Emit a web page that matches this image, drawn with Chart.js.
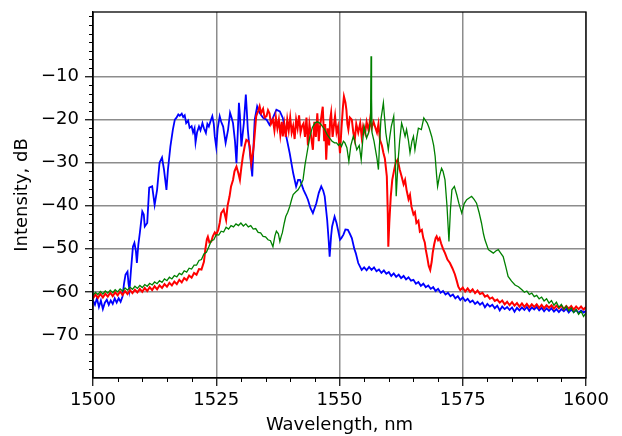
<!DOCTYPE html>
<html>
<head>
<meta charset="utf-8">
<script src="https://cdn.jsdelivr.net/npm/chart.js@4.4.1/dist/chart.umd.min.js"></script>
<style>
  html, body { margin: 0; padding: 0; background: #fff; }
</style>
</head>
<body>
<canvas id="spectrum" width="622" height="436"></canvas>
<script>

// tick labels
const xTicks = [1500, 1525, 1550, 1575, 1600];
const yTicks = [-70, -60, -50, -40, -30, -20, -10];

// blue trace
const wlBlue = [1500, 1500.4, 1500.8, 1501.2, 1501.6, 1502, 1502.4, 1502.8, 1503.2, 1503.6, 1504, 1504.4, 1504.8, 1505.2, 1505.6, 1506, 1506.3, 1506.6, 1507, 1507.2, 1507.4, 1507.7, 1508.1, 1508.4, 1508.7, 1508.9, 1509.2, 1509.5, 1510, 1510.3, 1510.5, 1511, 1511.4, 1512, 1512.5, 1513, 1513.5, 1514, 1514.4, 1514.9, 1515.2, 1515.7, 1516.2, 1516.6, 1516.9, 1517.3, 1517.6, 1518, 1518.3, 1518.6, 1518.9, 1519.3, 1519.6, 1520, 1520.3, 1520.6, 1520.8, 1521.1, 1521.5, 1521.8, 1522.2, 1522.5, 1522.9, 1523.2, 1523.5, 1523.8, 1524.2, 1524.5, 1524.7, 1525, 1525.3, 1525.7, 1526, 1526.4, 1526.9, 1527.4, 1527.8, 1528.1, 1528.4, 1528.8, 1529.1, 1529.4, 1529.6, 1529.8, 1530.1, 1530.3, 1530.6, 1531, 1531.2, 1531.4, 1531.9, 1532.3, 1532.6, 1532.8, 1533.3, 1533.8, 1534.5, 1535.2, 1535.8, 1536.5, 1537.2, 1537.9, 1538.5, 1539.2, 1539.9, 1540.6, 1541.2, 1541.6, 1542, 1542.7, 1543.2, 1543.6, 1544.1, 1544.6, 1545.3, 1545.8, 1546.3, 1546.7, 1547, 1547.5, 1547.8, 1548, 1548.3, 1548.5, 1549, 1549.4, 1549.7, 1550.1, 1550.4, 1550.8, 1551.2, 1551.7, 1552.1, 1552.5, 1553, 1553.3, 1553.8, 1554.5,
  1555, 1555.5, 1556, 1556.5, 1557, 1557.5, 1558, 1558.5, 1559, 1559.5, 1560, 1560.5, 1561, 1561.5, 1562, 1562.5, 1563, 1563.5, 1564, 1564.5, 1565, 1565.5, 1566, 1566.5, 1567, 1567.5, 1568, 1568.5, 1569, 1569.5, 1570, 1570.5, 1571, 1571.5, 1572, 1572.5, 1573, 1573.5, 1574, 1574.5, 1575, 1575.5, 1576, 1576.5, 1577, 1577.5, 1578, 1578.5, 1579, 1579.5, 1580, 1580.5, 1581, 1581.5, 1582, 1582.5, 1583, 1583.5, 1584, 1584.5, 1585, 1585.5, 1586, 1586.5, 1587, 1587.5, 1588, 1588.5, 1589, 1589.5, 1590, 1590.5, 1591, 1591.5, 1592, 1592.5, 1593, 1593.5, 1594, 1594.5, 1595, 1595.5, 1596, 1596.5, 1597, 1597.5, 1598, 1598.5, 1599, 1599.5, 1600];
const intBlue = [-62, -63, -61.5, -63.5, -62, -64, -62.5, -61.8, -63, -62, -62.8, -61.5, -62.5, -61.5, -62.3, -61, -58, -56, -55.3, -58, -59.5, -55, -49.5, -48.6, -50.5, -53.3, -49, -46.3, -41.3, -42, -44.8, -44, -35.8, -35.5, -39.8, -36.3, -30, -28.8, -31.6, -36.3, -31.6, -26.2, -22.3, -20, -19.6, -18.8, -19.1, -18.6, -19.4, -19, -20.8, -20.2, -21.9, -21.5, -23, -22, -25.3, -23, -21.6, -22.5, -20.8, -22, -23.1, -21, -21.6, -20.5, -19.2, -21, -23.9, -26.4, -22, -19.2, -20.5, -21.6, -25.4, -22.3, -18.4, -19.5, -20.8, -25, -30.1, -22, -16.1, -19, -26.2, -24, -20.8, -14.2, -18, -22.3, -28.5, -33.2, -25, -20, -16.9, -18.4, -19.6, -20, -21.2, -19.6, -17.7, -18.1, -19.6, -23.9, -27.8, -32.4, -35.5, -34, -34, -36.3, -37.5, -38.6, -40.5, -41.7, -39.4, -37, -35.5, -36.5, -37.8, -43.3, -48, -51.8, -47, -44.8, -42.5, -44, -45.6, -47.9, -47.5, -46.7, -45.5, -45.6, -46.5, -47.5, -50, -51, -53.3, -54.9,
  -54.3, -55, -54.2, -54.9, -54.3, -55.2, -54.8, -55.6, -55, -55.8, -55.4, -56.3, -55.7, -56.5, -56, -56.8, -56.3, -57.1, -56.6, -57.4, -57.2, -58.1, -57.7, -58.6, -58.1, -58.9, -58.5, -59.3, -58.9, -59.8, -59.3, -60.2, -59.8, -60.6, -60.2, -61, -60.6, -61.5, -61, -61.9, -61.3, -62.1, -61.6, -62.4, -62, -62.8, -62.3, -63, -62.5, -63.6, -62.8, -63.4, -63, -63.8, -63.2, -64.3, -63.4, -64, -63.5, -64.2, -63.6, -64.6, -63.7, -64.3, -63.6, -64.2, -63.5, -64.4, -63.6, -64.1, -63.5, -64.3, -63.7, -64.5, -63.8, -64.4, -63.8, -64.6, -64, -64.7, -64, -64.5, -63.9, -64.8, -64.1, -64.7, -64.2, -64.9, -64.3, -64.8, -64.4];

// red trace
const wlRed = [1500, 1500.5, 1501, 1501.5, 1502, 1502.5, 1503, 1503.5, 1504, 1504.5, 1505, 1505.5, 1506, 1506.5, 1507, 1507.5, 1508, 1508.5, 1509, 1509.5, 1510, 1510.5, 1511, 1511.5, 1512, 1512.5, 1513, 1513.5, 1514, 1514.5, 1515, 1515.5, 1516, 1516.5, 1517, 1517.5, 1518, 1518.5, 1519, 1519.5, 1520, 1520.5, 1521, 1521.5, 1522, 1522.5, 1522.8, 1523.1, 1523.3, 1523.6, 1524, 1524.3, 1524.7, 1525, 1525.4, 1525.7, 1526, 1526.5, 1527, 1527.3, 1527.7, 1528, 1528.4, 1528.7, 1529.1, 1529.5, 1529.8, 1530.1, 1530.4, 1530.8, 1531.1, 1531.5, 1531.8, 1532.1, 1532.4, 1532.6, 1532.9, 1533.1, 1533.5, 1533.8, 1534.1, 1534.5, 1534.8, 1535.2, 1535.5, 1535.8, 1536.1, 1536.5, 1536.8, 1537.1, 1537.4, 1537.7, 1538, 1538.3, 1538.5, 1538.8, 1539.1, 1539.4, 1539.7, 1540, 1540.3, 1540.6, 1540.9, 1541.2, 1541.5, 1541.8, 1542.1, 1542.4, 1542.7, 1543, 1543.3, 1543.6, 1543.9, 1544.2, 1544.6, 1544.9, 1545.2, 1545.5, 1545.8, 1546, 1546.3, 1546.6, 1546.9, 1547.1, 1547.3, 1547.6, 1547.9, 1548.1, 1548.3, 1548.6, 1548.9, 1549.1, 1549.4, 1549.7, 1549.9, 1550.1, 1550.4, 1550.7, 1550.9, 1551.2, 1551.4, 1551.6, 1551.8, 1552.1, 1552.5, 1552.8, 1553.1, 1553.4, 1553.8, 1554.2, 1554.5, 1554.8, 1555.2, 1555.5, 1555.9, 1556.2, 1556.5, 1556.9, 1557.2, 1557.6, 1557.9, 1558.2, 1558.6, 1558.9, 1559.2, 1559.6, 1559.8, 1559.9, 1560.1, 1560.4, 1560.7, 1561.1, 1561.4, 1561.8, 1562.2, 1562.6, 1563, 1563.3, 1563.6, 1564, 1564.3, 1564.6, 1565, 1565.3, 1565.6, 1566, 1566.3, 1566.7, 1567, 1567.3, 1567.5, 1567.8, 1568.1, 1568.4, 1568.7, 1568.9, 1569.2, 1569.5, 1569.7, 1570, 1570.3, 1570.6, 1571, 1571.4, 1571.9, 1572.4, 1572.9, 1573.4, 1573.8, 1574.1,
  1574.5, 1575, 1575.5, 1576, 1576.5, 1577, 1577.5, 1578, 1578.5, 1579, 1579.5, 1580, 1580.5, 1581, 1581.5, 1582, 1582.5, 1583, 1583.5, 1584, 1584.5, 1585, 1585.5, 1586, 1586.5, 1587, 1587.5, 1588, 1588.5, 1589, 1589.5, 1590, 1590.5, 1591, 1591.5, 1592, 1592.5, 1593, 1593.5, 1594, 1594.5, 1595, 1595.5, 1596, 1596.5, 1597, 1597.5, 1598, 1598.5, 1599, 1599.5, 1600];
const intRed = [-61.5, -60.6, -61.4, -60.5, -61.3, -60.4, -61.1, -60.2, -61, -60.1, -60.8, -59.9, -60.7, -59.8, -60.5, -59.6, -60.3, -59.5, -60.1, -59.3, -60, -59.1, -59.8, -58.9, -59.6, -58.7, -59.4, -58.5, -59.1, -58.2, -58.8, -57.9, -58.5, -57.6, -58.2, -57.2, -57.8, -56.8, -57.3, -56.2, -56.7, -55.6, -56, -54.7, -54.8, -53, -50, -47.8, -47.2, -48.5, -48.3, -47.1, -46.2, -46.7, -45.6, -44, -41.7, -40.9, -43.3, -40, -37.8, -35.5, -34, -32, -30.9, -32.5, -34, -31, -28.5, -26, -24.7, -25, -26.2, -30.1, -28, -26.2, -22, -19.2, -18, -16.9, -18.5, -17.5, -19.5, -19.2, -17.8, -18.5, -21, -20, -22.5, -19.5, -22, -20, -23.5, -20.5, -23.9, -21, -24, -20, -22.5, -19.5, -23, -21.5, -24.5, -20, -22, -19, -23, -21.5, -20.9, -24, -19.5, -26, -21, -23.5, -27, -20.5, -24, -18.5, -25, -22, -19.5, -17, -25, -21, -29.3, -22, -26, -20, -18.4, -24, -21, -19.2, -23, -21.6, -25, -27.8, -22, -17, -14.6, -16, -17.7, -21, -22.3, -19.5, -20, -23, -24.7, -21, -23, -20.8, -24, -21.5, -23.1, -20.5, -22.5, -20, -22, -20.5, -21.6, -23, -21, -24.7, -26, -27.7, -29, -33.2, -42, -49.5, -44, -37.8, -34, -31.6, -30, -29.3, -31.5, -33.2, -35, -34, -36.3, -38.5, -37.5, -40.2, -42, -41.5, -44, -43.5, -46, -45.6, -47.5, -48.5, -50.2, -52, -54, -54.9, -53, -51, -49, -47.5, -47.1, -48, -47.5, -48.7, -50, -51, -52.5, -53.3, -54.5, -55.9, -57.5, -58.8,
  -59.6, -59, -59.9, -59.2, -60, -59.4, -60.3, -59.7, -60.5, -60.2, -61.1, -60.8, -61.6, -61.3, -62.1, -61.8, -62.5, -62, -62.9, -62.3, -63.1, -62.4, -63.2, -62.6, -63.4, -62.7, -63.5, -62.8, -63.6, -62.9, -63.5, -62.9, -63.7, -63, -63.8, -63.1, -63.7, -63.1, -63.9, -63.2, -63.8, -63.2, -64, -63.3, -63.9, -63.3, -64.1, -63.4, -64, -63.4, -64.1, -63.5];

// green trace
const wlGreen = [1500, 1500.5, 1501, 1501.5, 1502, 1502.5, 1503, 1503.5, 1504, 1504.5, 1505, 1505.5, 1506, 1506.5, 1507, 1507.5, 1508, 1508.5, 1509, 1509.5, 1510, 1510.5, 1511, 1511.5, 1512, 1512.5, 1513, 1513.5, 1514, 1514.5, 1515, 1515.5, 1516, 1516.5, 1517, 1517.5, 1518, 1518.5, 1519, 1519.5, 1520, 1520.5, 1521, 1521.5, 1522, 1522.5, 1523, 1523.5, 1524, 1524.5, 1525, 1525.5, 1526, 1526.5, 1527, 1527.5, 1528, 1528.5, 1529, 1529.5, 1530, 1530.5, 1531, 1531.5, 1532, 1532.5, 1533, 1533.5, 1534, 1534.5, 1535, 1535.5, 1536, 1536.5, 1536.9, 1537.2, 1537.6, 1537.9, 1538.2, 1538.4, 1538.8, 1539.1, 1539.5, 1539.9, 1540.3, 1540.6, 1541.1, 1541.6, 1542.1, 1542.6, 1543, 1543.3, 1543.7, 1544, 1544.5, 1545, 1545.5, 1546, 1546.5, 1547, 1547.5, 1548, 1548.5, 1549, 1549.4, 1549.8, 1550.1, 1550.4, 1550.8, 1551.1, 1551.5, 1551.9, 1552.3, 1552.8, 1553.1, 1553.5, 1554, 1554.4, 1554.7, 1555, 1555.5, 1556, 1556.3, 1556.4, 1556.5, 1556.6, 1557, 1557.3, 1557.6, 1557.9, 1558.1, 1558.4, 1558.9, 1559.1, 1559.4, 1559.9, 1560.2, 1560.5, 1561, 1561.3, 1561.5, 1561.9, 1562.2, 1562.6, 1562.9, 1563.3, 1563.6, 1564, 1564.3, 1564.7, 1565, 1565.3, 1565.7, 1566, 1566.6, 1567.1, 1567.5, 1567.8, 1568.2, 1568.7, 1569.1, 1569.4, 1569.7, 1569.9, 1570.3, 1570.7, 1571, 1571.4, 1571.8, 1572.2, 1572.5, 1572.8, 1573.3, 1573.8, 1574.2, 1574.8, 1575.3, 1575.8, 1576.3, 1576.8, 1577.3, 1577.8, 1578.3, 1578.8, 1579.2, 1579.5, 1580.2, 1580.7, 1581.2, 1581.7, 1582.2, 1582.7, 1583.2, 1583.7, 1584.2, 1584.9, 1585.6, 1586.3,
  1587, 1587.5, 1588, 1588.5, 1589, 1589.5, 1590, 1590.5, 1591, 1591.5, 1592, 1592.5, 1593, 1593.5, 1594, 1594.5, 1595, 1595.5, 1596, 1596.5, 1597, 1597.5, 1598, 1598.5, 1599, 1599.5, 1600];
const intGreen = [-60.8, -60.1, -60.6, -59.9, -60.5, -59.8, -60.3, -59.6, -60.2, -59.5, -60, -59.3, -59.8, -59.1, -59.6, -58.9, -59.4, -58.7, -59.2, -58.5, -59, -58.3, -58.7, -58, -58.4, -57.7, -58.1, -57.4, -57.8, -57, -57.4, -56.6, -57, -56.2, -56.5, -55.7, -56, -55.1, -55.4, -54.5, -54.7, -53.8, -53.8, -52.7, -52.5, -51.2, -50.8, -49.5, -48.1, -47.9, -46.7, -46.8, -45.9, -46.1, -45, -45.4, -44.6, -44.9, -44.2, -44.6, -44, -44.7, -44.2, -44.9, -44.6, -45.4, -45.3, -46.2, -46.3, -47.1, -47.2, -47.9, -48.1, -49.5, -47, -45.9, -46.5, -48.3, -47, -46.3, -44, -42.5, -41.5, -40.2, -38.5, -37.4, -36.8, -36.3, -35.3, -34, -30.5, -28.5, -25.8, -23.9, -21.8, -20.8, -20.5, -20.8, -21.5, -22.3, -23.5, -24.3, -25, -25.4, -25.4, -26, -25.5, -26.2, -25, -25.4, -26.5, -29.7, -26, -23.9, -25, -27, -26, -29.3, -25, -21.6, -24.3, -22.6, -20, -5.3, -15, -23, -25, -27, -29, -31.6, -26, -20, -16.1, -19, -23.1, -27, -24, -21.6, -19.2, -28, -37.8, -29.3, -25, -20.8, -22, -23.9, -22.3, -25, -27.7, -25, -23.9, -27, -24, -22, -22.3, -19.6, -20.3, -20.8, -22, -23.9, -26, -28.5, -33, -35.5, -33, -31.3, -32, -34, -40, -48.3, -41, -36.3, -35.5, -37.5, -39.4, -41.7, -39.5, -38.6, -38.2, -37.8, -38.5, -39.4, -41.5, -44, -46.5, -47.9, -50.2, -50.6, -51, -50.5, -50.2, -51, -51.8, -54, -56.4, -57.5, -58.4, -58.8,
  -59.5, -60.1, -59.8, -60.6, -60.3, -61.1, -60.8, -61.6, -61.2, -62.1, -61.6, -62.6, -62, -63.1, -62.4, -63.6, -62.9, -64, -63.3, -64.4, -63.7, -64.8, -64.1, -65.2, -64.5, -65.7, -64.9];

const ctx = document.getElementById('spectrum');

function toPoints(xs, ys) {
  return xs.map((x, i) => ({ x: x, y: ys[i] }));
}

// minor tick positions (x every 5 nm, y every 2 dB)
const xMinor = [];
for (let v = 1505; v < 1600; v += 5) {
  if (v % 25 !== 0) xMinor.push(v);
}
const yMinor = [];
for (let v = -78; v <= 4; v += 2) {
  if (v % 10 !== 0 || v === 0) yMinor.push(v);
}

const tickFont = { family: 'DejaVu Sans', size: 18 };

// draws the box around the plot and the short minor ticks
const frameAndMinor = {
  id: 'frameAndMinor',
  afterDraw(chart) {
    const c = chart.ctx;
    const a = chart.chartArea;
    const xs = chart.scales.x;
    const ys = chart.scales.y;
    c.save();
    c.strokeStyle = '#000';
    c.lineWidth = 1;
    c.beginPath();
    xMinor.forEach((v) => {
      const px = Math.round(xs.getPixelForValue(v)) + 0.5;
      c.moveTo(px, a.bottom);
      c.lineTo(px, a.bottom + 4);
    });
    yMinor.forEach((v) => {
      const py = Math.round(ys.getPixelForValue(v)) + 0.5;
      c.moveTo(a.left, py);
      c.lineTo(a.left - 4, py);
    });
    c.stroke();
    c.lineWidth = 1.3;
    c.strokeRect(a.left, a.top, a.right - a.left, a.bottom - a.top);
    c.restore();
  }
};

new Chart(ctx, {
  type: 'line',
  data: {
    datasets: [{
      label: 'green',
      data: toPoints(wlGreen, intGreen),
      borderColor: 'rgb(0,128,0)',
      borderWidth: 1.3,
      pointRadius: 0,
      tension: 0
    }, {
      label: 'red',
      data: toPoints(wlRed, intRed),
      borderColor: 'rgb(255,0,0)',
      borderWidth: 2,
      pointRadius: 0,
      tension: 0
    }, {
      label: 'blue',
      data: toPoints(wlBlue, intBlue),
      borderColor: 'rgb(0,0,255)',
      borderWidth: 1.8,
      pointRadius: 0,
      tension: 0
    }]
  },
  options: {
    responsive: false,
    animation: false,
    devicePixelRatio: 1,
    layout: { padding: { top: 12, right: 36, left: 0, bottom: 0 } },
    plugins: {
      legend: { display: false },
      tooltip: { enabled: false }
    },
    scales: {
      x: {
        type: 'linear',
        min: 1500,
        max: 1600,
        afterBuildTicks: (axis) => { axis.ticks = xTicks.map((v) => ({ value: v })); },
        afterFit: (axis) => { axis.height = 58; },
        ticks: { font: tickFont, color: '#000', padding: 4, maxRotation: 0, callback: (v) => String(v) },
        grid: { color: '#8c8c8c', lineWidth: 1.5, tickLength: 8, tickColor: '#000', tickWidth: 1.2 },
        border: { color: '#000', width: 1.3 },
        title: { display: true, text: 'Wavelength, nm', font: tickFont, color: '#000', padding: { top: 0, bottom: 0 } }
      },
      y: {
        type: 'linear',
        min: -80,
        max: 5,
        afterBuildTicks: (axis) => { axis.ticks = yTicks.map((v) => ({ value: v })); },
        afterFit: (axis) => {
          axis.width = 93;
          axis.paddingTop = 0;
          axis.paddingBottom = 0;
        },
        ticks: {
          font: tickFont,
          color: '#000',
          padding: 6,
          callback: (v) => String(v).replace('-', '\u2212')
        },
        grid: { color: '#8c8c8c', lineWidth: 1.5, tickLength: 8, tickColor: '#000', tickWidth: 1.2 },
        border: { color: '#000', width: 1.3 },
        title: { display: true, text: 'Intensity, dB', font: tickFont, color: '#000', padding: { top: 12, bottom: 0 } }
      }
    }
  },
  plugins: [frameAndMinor]
});
</script>
</body>
</html>
